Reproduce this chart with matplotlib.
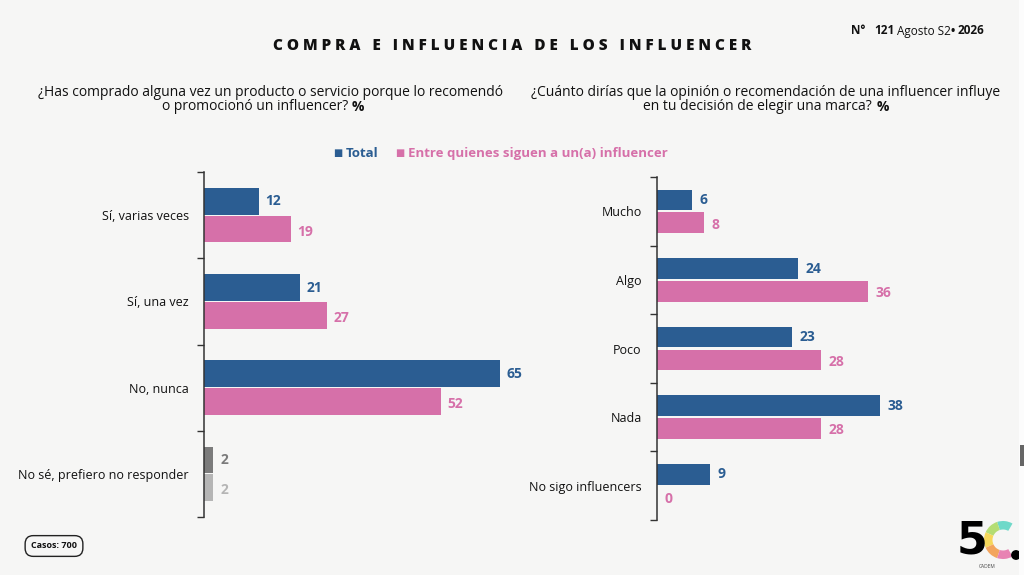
import numpy as np
import matplotlib
matplotlib.use("Agg")
from matplotlib import pyplot as plt
from matplotlib.patches import Wedge

# data
q1_cats = ["Sí, varias veces", "Sí, una vez", "No, nunca", "No sé, prefiero no responder"]
q1_total = [12, 21, 65, 2]
q1_sigue = [19, 27, 52, 2]

q2_cats = ["Mucho", "Algo", "Poco", "Nada", "No sigo influencers"]
q2_total = [6, 24, 23, 38, 9]
q2_sigue = [8, 36, 28, 28, 0]

BLUE = "#2b5d92"
PINK = "#d670a9"
GRAY_D = "#7b7b7b"
GRAY_L = "#b5b5b5"
BG = "#f6f6f5"
INK = "#111111"
FONT = "Open Sans"

plt.rcParams["font.family"] = [FONT, "DejaVu Sans"]

W, H = 1024, 575
fig = plt.figure(figsize=(W / 100, H / 100), dpi=100)
fig.patch.set_facecolor(BG)
renderer = fig.canvas.get_renderer()


def runs(x, y, parts, ha="left"):
    # parts: list of (text, weight, color, size, gap_after_px); x, y in pixels from top-left
    objs = []
    total = 0
    for txt, wt, col, fs, gap in parts:
        t = fig.text(0, 0, txt, fontsize=fs, fontweight=wt, color=col, va="center", ha="left")
        w = t.get_window_extent(renderer).width
        objs.append((t, w, gap))
        total += w + gap
    total -= objs[-1][2]
    if ha == "center":
        x = x - total / 2
    elif ha == "right":
        x = x - total
    for t, w, gap in objs:
        t.set_position((x / W, 1 - y / H))
        x += w + gap


def panel(rect, cats, tot, sig, xmax, bh, off, gray_last=False):
    ax = fig.add_axes(rect)
    ax.set_facecolor("none")
    n = len(cats)
    y = np.arange(n)
    for i in range(n):
        c1, c2 = BLUE, PINK
        if gray_last and i == n - 1:
            c1, c2 = GRAY_D, GRAY_L
        ax.barh(y[i] - off, tot[i], height=bh, color=c1)
        ax.barh(y[i] + off, sig[i], height=bh, color=c2)
        ax.text(tot[i] + xmax * 0.022, y[i] - off, str(tot[i]), va="center",
                ha="left", color=c1, fontsize=10, fontweight="bold")
        ax.text(sig[i] + xmax * 0.022, y[i] + off + 0.03, str(sig[i]), va="center",
                ha="left", color=c2, fontsize=10, fontweight="bold")
    ax.set_xlim(0, xmax)
    ax.set_ylim(n - 0.5, -0.5)
    ax.set_yticks(y)
    ax.set_yticklabels(cats, fontsize=9, color=INK)
    ax.tick_params(axis="y", length=0, pad=11)
    ax.set_yticks(np.arange(n + 1) - 0.5, minor=True)
    ax.tick_params(axis="y", which="minor", length=5, color="#333333", width=1)
    ax.set_xticks([])
    for s in ["top", "right", "bottom"]:
        ax.spines[s].set_visible(False)
    ax.spines["left"].set_color("#333333")
    ax.spines["left"].set_linewidth(1.1)
    return ax


panel([204 / W, 1 - 517 / H, 316 / W, 345 / H], q1_cats, q1_total, q1_sigue,
      69.4, 0.31, 0.16, gray_last=True)
panel([657 / W, 1 - 520 / H, 343 / W, 343 / H], q2_cats, q2_total, q2_sigue,
      58.4, 0.30, 0.165)

# title and header
fig.text(512 / W, 1 - 46 / H, "C O M P R A   E   I N F L U E N C I A   D E   L O S   I N F L U E N C E R",
         ha="center", va="center", fontsize=11, fontweight="heavy", color=INK)
runs(851, 31, [("N°", "bold", INK, 8.5, 9), ("121", "bold", INK, 8.5, 2),
               ("Agosto S2", "normal", INK, 8.5, 0), ("•", "bold", INK, 8.5, 3),
               ("2026", "bold", INK, 8.5, 0)])

runs(270, 92, [("¿Has comprado alguna vez un producto o servicio porque lo recomendó", "normal", INK, 10, 0)],
     ha="center")
runs(263, 107, [("o promocionó un influencer?", "normal", INK, 10, 4), ("%", "bold", INK, 10, 0)],
     ha="center")
runs(766, 92, [("¿Cuánto dirías que la opinión o recomendación de una influencer influye", "normal", INK, 10, 0)],
     ha="center")
runs(766, 107, [("en tu decisión de elegir una marca?", "normal", INK, 10, 4), ("%", "bold", INK, 10, 0)],
     ha="center")

# legend
runs(333, 153, [("■", "normal", BLUE, 7, 4), ("Total", "bold", BLUE, 9.5, 16), ("■", "normal", PINK, 7, 4),
                ("Entre quienes siguen a un(a) influencer", "bold", PINK, 9.5, 0)])

# casos box
fig.text(54 / W, 1 - 546 / H, "Casos: 700", ha="center", va="center", fontsize=6.5, fontweight="bold",
         color=INK, bbox=dict(boxstyle="round,pad=0.65,rounding_size=0.9", fc="none", ec="#222222", lw=1))

# logo, drawn on a pixel overlay
ov = fig.add_axes([0, 0, 1, 1])
ov.set_xlim(0, W)
ov.set_ylim(0, H)
ov.axis("off")
ov.patch.set_alpha(0)
ov.text(972, H - 541, "5", ha="center", va="center", fontsize=32, fontweight="bold",
        color="black", family="DejaVu Sans")
cols = ["#6fd9c9", "#b4dd74", "#f6d75b", "#f3a55e", "#e883b3"]
for k, c in enumerate(cols):
    a0 = 60 + k * 48
    ov.add_patch(Wedge((1003, H - 540), 19, a0, a0 + 48, width=8.5, color=c, lw=0))
ov.add_patch(plt.Circle((1016, H - 555), 4.2, color="black"))
ov.text(987, H - 567, "CADEM", ha="center", va="center", fontsize=3.5, color="#444444")

# right-edge strip
ov.add_patch(plt.Rectangle((1019, 0), 5, H, fc="#fcfcfc", ec="none"))
ov.add_patch(plt.Rectangle((1020, H - 466), 4, 21, fc="#666666", ec="none"))

fig.savefig("out.png", dpi=100, facecolor=BG)
